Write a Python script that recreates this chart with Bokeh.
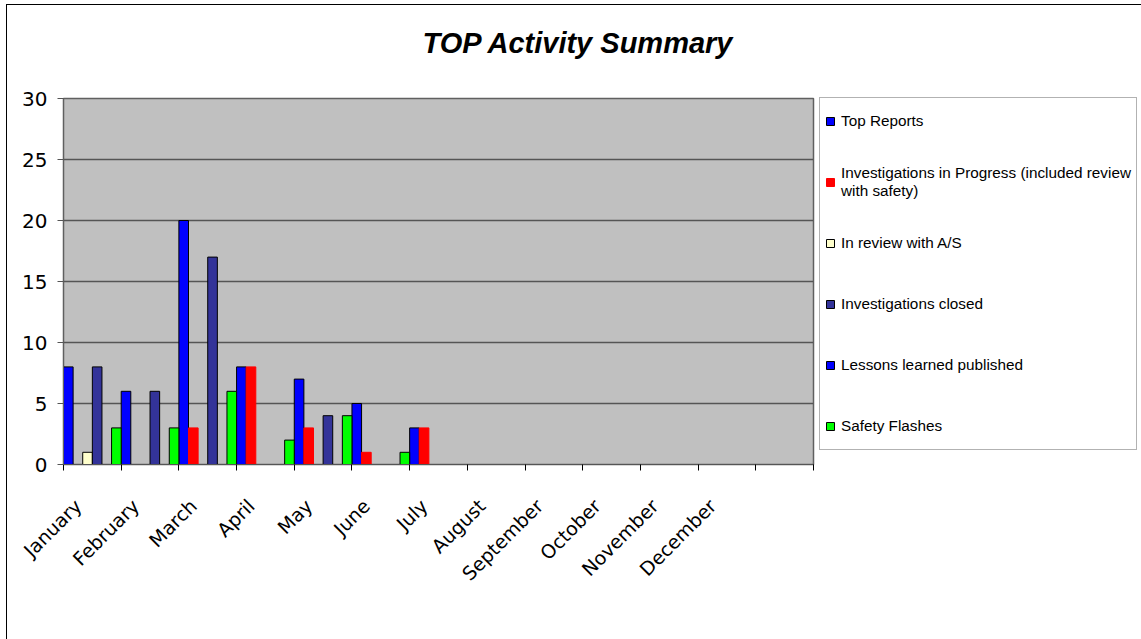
import math
from bokeh.plotting import figure
from bokeh.models import (ColumnDataSource, Range1d, FixedTicker, Legend, LegendItem, Title)
from bokeh.transform import dodge
from bokeh.embed import file_html
from bokeh.resources import INLINE

months = ["January", "February", "March", "April", "May", "June", "July",
          "August", "September", "October", "November", "December", ""]
top_reports = [8, 6, 20, 8, 7, 5, 3, 0, 0, 0, 0, 0, 0]
inv_progress = [0, 0, 3, 8, 3, 1, 3, 0, 0, 0, 0, 0, 0]
in_review = [1, 0, 0, 0, 0, 0, 0, 0, 0, 0, 0, 0, 0]
inv_closed = [8, 6, 17, 0, 4, 0, 0, 0, 0, 0, 0, 0, 0]
lessons = [0, 0, 0, 0, 0, 0, 0, 0, 0, 0, 0, 0, 0]
safety_flashes = [3, 3, 6, 2, 4, 1, 0, 0, 0, 0, 0, 0, 0]

series_names = ["Top Reports",
                "Investigations in Progress (included review\nwith safety)",
                "In review with A/S",
                "Investigations closed",
                "Lessons learned published",
                "Safety Flashes"]
series_keys = ["top", "prog", "review", "closed", "lessons", "flash"]
series_colors = ["#0000FF", "#FF0000", "#FFFFCC", "#333399", "#0000FF", "#00FF00"]
series_lines = ["black", "#FF0000", "black", "black", "black", "black"]
y_ticks = [0, 5, 10, 15, 20, 25, 30]

idx = list(range(len(months)))
source = ColumnDataSource(dict(idx=idx, top=top_reports, prog=inv_progress,
                               review=in_review, closed=inv_closed,
                               lessons=lessons, flash=safety_flashes))

p = figure(frame_width=750, frame_height=366, output_backend="svg", toolbar_location=None,
           x_range=Range1d(-0.5, len(months) - 0.5), y_range=Range1d(0, 30),
           min_border_left=56, min_border_right=328, min_border_top=93,
           min_border_bottom=175, background_fill_color="#C0C0C0",
           border_fill_color="white", outline_line_color="#606060",
           outline_line_width=1.5)
p.styles = {"margin-left": "6px", "margin-top": "4px",
            "border-left": "1px solid black", "border-top": "1px solid black"}

# main title (outermost)
p.title.text = "TOP Activity Summary"
p.title.text_font = "Liberation Sans"
p.title.text_font_style = "bold italic"
p.title.text_font_size = "29px"
p.title.text_color = "black"
p.title.align = "left"
p.title.offset = 359
p.title.standoff = 38

# spacer between title and plot area
spacer = Title(text=" ", text_font_size="1px", standoff=18)
p.add_layout(spacer, "above")

n = len(series_keys)
bw = 1.0 / n
items = []
for s, (key, name, col, lc) in enumerate(zip(series_keys, series_names, series_colors, series_lines)):
    r = p.vbar(x=dodge("idx", (s - (n - 1) / 2) * bw, range=p.x_range), top=key,
               width=bw, bottom=0, source=source, fill_color=col,
               line_color=lc, line_width=1)
    items.append(LegendItem(label=name, renderers=[r]))

legend = Legend(items=items, location=(6, 14), label_text_font="Liberation Sans",
                label_text_font_size="15.3px", label_text_color="black",
                label_height=36, glyph_height=10,
                glyph_width=10, spacing=25, padding=5, label_standoff=6,
                border_line_color="#666666", border_line_width=1,
                background_fill_color="white", background_fill_alpha=1.0,
                margin=0)
p.add_layout(legend, "right")

# grid
p.xgrid.grid_line_color = None
p.ygrid.grid_line_color = "#555555"
p.ygrid.grid_line_width = 1.5
p.ygrid.ticker = FixedTicker(ticks=y_ticks)

# y axis
p.yaxis.ticker = FixedTicker(ticks=y_ticks)
p.yaxis.major_tick_in = 0
p.yaxis.major_tick_out = 6
p.yaxis.minor_tick_line_color = None
p.yaxis.axis_line_color = "#606060"
p.yaxis.major_tick_line_color = "#555555"
p.yaxis.major_label_text_font = "DejaVu Sans"
p.yaxis.major_label_text_font_size = "20px"
p.yaxis.major_label_text_color = "black"
p.yaxis.major_label_standoff = 10

# x axis: labels slightly left of the category centre, ticks on category boundaries
label_ticks = [i - 0.25 for i in idx]
p.xaxis.ticker = FixedTicker(ticks=label_ticks, minor_ticks=[i - 0.5 for i in range(len(months) + 1)])
p.xaxis.major_label_overrides = {t: m for t, m in zip(label_ticks, months)}
p.xaxis.major_tick_in = 0
p.xaxis.major_tick_out = 0
p.xaxis.minor_tick_in = 0
p.xaxis.minor_tick_out = 6
p.xaxis.minor_tick_line_color = "black"
p.xaxis.axis_line_color = "#555555"
p.xaxis.major_label_orientation = math.pi / 4
p.xaxis.major_label_text_font = "DejaVu Sans"
p.xaxis.major_label_text_font_size = "19px"
p.xaxis.major_label_text_color = "black"
p.xaxis.major_label_standoff = 32

open("out.html", "w").write(file_html(p, INLINE))
